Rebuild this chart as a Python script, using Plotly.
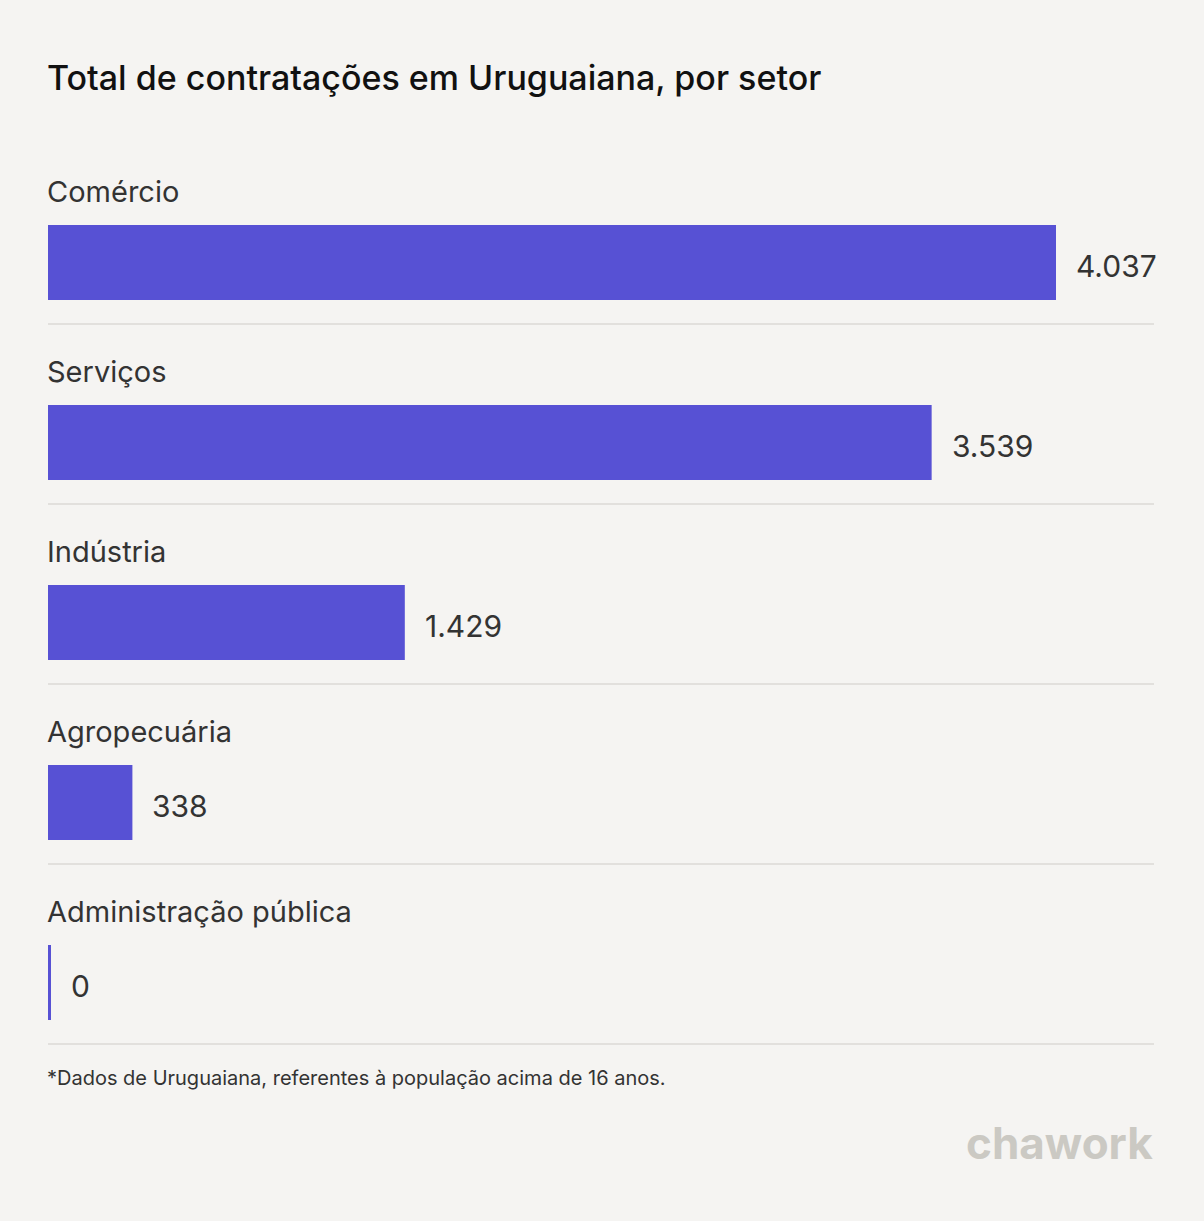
import plotly.graph_objects as go

categories = ["Comércio", "Serviços", "Indústria", "Agropecuária", "Administração pública"]
values = [4037, 3539, 1429, 338, 0]
value_labels = ["4.037", "3.539", "1.429", "338", "0"]

title = "Total de contratações em Uruguaiana, por setor"
footnote = "*Dados de Uruguaiana, referentes à população acima de 16 anos."
brand = "chawork"

W, H = 1204, 1221
BG = "#f5f4f2"
BAR = "#5751d4"
FONT = "Inter, Roboto, sans-serif"

# pixel geometry
left, right = 48, 1154
pitch = 180.0
bar_center0 = 262.5
bar_h = 75.0
px_per_unit = 1008.0 / 4037
xmax = (right - left) / px_per_unit

idx = list(range(len(categories)))
y_top = (0 - bar_center0) / pitch
y_bot = (H - bar_center0) / pitch

fig = go.Figure()
fig.add_trace(go.Bar(
    x=values, y=idx, orientation="h",
    width=bar_h / pitch,
    marker=dict(color=BAR, line=dict(width=0)),
    hoverinfo="skip",
))

shapes = []
annotations = []
for i, (cat, v, lab) in enumerate(zip(categories, values, value_labels)):
    annotations.append(dict(
        x=0, y=i + (191 - bar_center0) / pitch, xref="x", yref="y",
        text=cat, showarrow=False, xanchor="left", yanchor="middle", xshift=-3,
        font=dict(family=FONT, size=29, color="#333333"),
    ))
    annotations.append(dict(
        x=v, y=i + 3 / pitch, xref="x", yref="y",
        text=lab, showarrow=False, xanchor="left", yanchor="middle",
        xshift=18 if v > 0 else 21,
        font=dict(family=FONT, size=30, color="#333333"),
    ))
    shapes.append(dict(
        type="line", xref="x", yref="y",
        x0=0, x1=xmax, y0=i + (324 - bar_center0) / pitch, y1=i + (324 - bar_center0) / pitch,
        line=dict(color="#e2e0dd", width=2),
    ))
    if v == 0:
        shapes.append(dict(
            type="rect", xref="x", yref="y",
            x0=0, x1=3 / px_per_unit, y0=i - bar_h / 2 / pitch, y1=i + bar_h / 2 / pitch,
            fillcolor=BAR, line=dict(width=0),
        ))

annotations.append(dict(
    x=left / W, y=1 - 78 / H, xref="paper", yref="paper",
    text=title, showarrow=False, xanchor="left", yanchor="middle", xshift=-3,
    font=dict(family=FONT, size=34, color="#111111", weight=500),
))
annotations.append(dict(
    x=left / W, y=1 - 1078 / H, xref="paper", yref="paper",
    text=footnote, showarrow=False, xanchor="left", yanchor="middle", xshift=-3,
    font=dict(family=FONT, size=20, color="#333333"),
))
annotations.append(dict(
    x=1155 / W, y=1 - 1143 / H, xref="paper", yref="paper",
    text="<b>" + brand + "</b>", showarrow=False, xanchor="right", yanchor="middle",
    font=dict(family=FONT, size=44, color="#cbc9c3"),
))

fig.update_layout(
    width=W, height=H,
    margin=dict(l=0, r=0, t=0, b=0),
    paper_bgcolor=BG, plot_bgcolor=BG,
    showlegend=False,
    xaxis=dict(range=[-left / px_per_unit, (W - left) / px_per_unit], visible=False, fixedrange=True),
    yaxis=dict(range=[y_bot, y_top], visible=False, fixedrange=True),
    shapes=shapes,
    annotations=annotations,
)

fig.write_html("out.html", config={"displayModeBar": False})
